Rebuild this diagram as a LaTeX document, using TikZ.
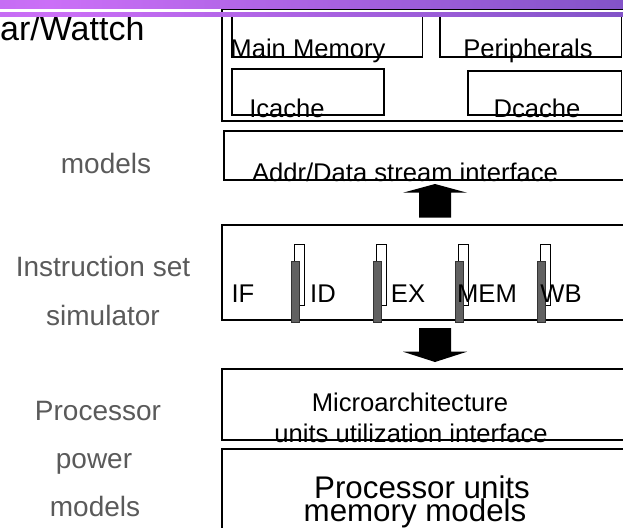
\documentclass[tikz,border=0pt]{standalone}
\usepackage{fontspec}
\setmainfont{Liberation Sans}
\usepackage{xcolor}
\usepackage{tikz}
\definecolor{hdrA}{HTML}{A75FE0}
\definecolor{hdrB}{HTML}{CB6FF7}
\definecolor{hdrC}{HTML}{5B44AF}
\definecolor{labgray}{HTML}{5A5A5A}
\pgfdeclarehorizontalshading{header}{100bp}{color(0bp)=(hdrA); color(29bp)=(hdrB); color(100bp)=(hdrC)}
\tikzset{
  blk/.style={draw, line width=1.3pt, inner sep=0pt, outer sep=0pt},
  sidelbl/.style={text=labgray, anchor=base, inner sep=0pt, font=\fontsize{28}{30}\selectfont},
  boxtxt/.style={anchor=base, inner sep=0pt, font=\fontsize{25.6}{28}\selectfont},
  latch/.style={fill=black!62, draw=black!80, line width=0.4pt}
}

\begin{document}
\begin{tikzpicture}[x=1pt, y=-1pt]
  \useasboundingbox (0,0) rectangle (623,527);

  % memory side
  \node[blk, minimum width=403, minimum height=111.5] (mem) at (423.5,65.25) {};
  \node[blk, minimum width=190.7, minimum height=41] (mainmem) at (327.35,36.5) {};
  \node[blk, minimum width=181.5, minimum height=41] (periph) at (530.75,36.5) {};
  \node[blk, minimum width=152, minimum height=46] (icache) at (308,92) {};
  \node[blk, minimum width=153.5, minimum height=44] (dcache) at (544.75,93) {};
  \node[boxtxt] (tmain) at (308,58) {Main Memory};
  \node[boxtxt] (tper) at (528,58) {Peripherals};
  \node[boxtxt] (tic) at (287,117) {Icache};
  \node[boxtxt] (tdc) at (537,117) {Dcache};

  \node[blk, minimum width=401, minimum height=49] (addr) at (424.5,155.5) {};
  \node[boxtxt] (taddr) at (405,181) {Addr/Data stream interface};

  % pipeline
  \node[blk, minimum width=403, minimum height=95] (pipe) at (423.5,272.5) {};
  \foreach \x in {294,376,458,540} {
    \draw[line width=1pt] (\x,244) rectangle (\x+10,305);
    \fill[latch] (\x-3,261) rectangle (\x+5,322);
  }
  \foreach \s/\x [count=\i] in {IF/243,ID/323,EX/408,MEM/487,WB/561}
    \node[boxtxt] (st\i) at (\x,302) {\s};

  \node[blk, minimum width=403, minimum height=71] (uarch) at (423.5,404.5) {};
  \node[boxtxt] (tua1) at (410,411.7) {Microarchitecture};
  \node[boxtxt] (tua2) at (411,442) {units utilization interface};

  \node[blk, minimum width=403, minimum height=81] (units) at (423.5,489.5) {};
  \node[boxtxt, font=\fontsize{31.3}{33}\selectfont] (tun1) at (422,498) {Processor units};
  \node[boxtxt, font=\fontsize{31.3}{33}\selectfont] (tun2) at (415,521) {memory models};

  % block arrows
  \coordinate (uptip) at (435,184);
  \fill (uptip) -- ++(32,8.7) -- ++(-16,0) -- ++(0,25) -- ++(-32,0)
    -- ++(0,-25) -- ++(-16,0) -- cycle;
  \coordinate (dntip) at (435,362);
  \fill (dntip) -- ++(32,-10.3) -- ++(-16,0) -- ++(0,-23.7) -- ++(-32,0)
    -- ++(0,23.7) -- ++(-16,0) -- cycle;

  % left column
  \node[anchor=base west, inner sep=0pt, font=\fontsize{34}{36}\selectfont] (title) at (0,41) {ar/Wattch};
  \node[sidelbl] (l1) at (106,173) {models};
  \node[sidelbl] (l2) at (103,276.7) {Instruction set};
  \node[sidelbl] (l3) at (103,325) {simulator};
  \node[sidelbl] (l4) at (98,420) {Processor};
  \node[sidelbl] (l5) at (94,468) {power};
  \node[sidelbl] (l6) at (95,516.7) {models};

  % slide header
  \shade[shading=header] (0,0) rectangle (623,9);
  \shade[shading=header] (0,13) rectangle (623,16.5);
\end{tikzpicture}
\end{document}
